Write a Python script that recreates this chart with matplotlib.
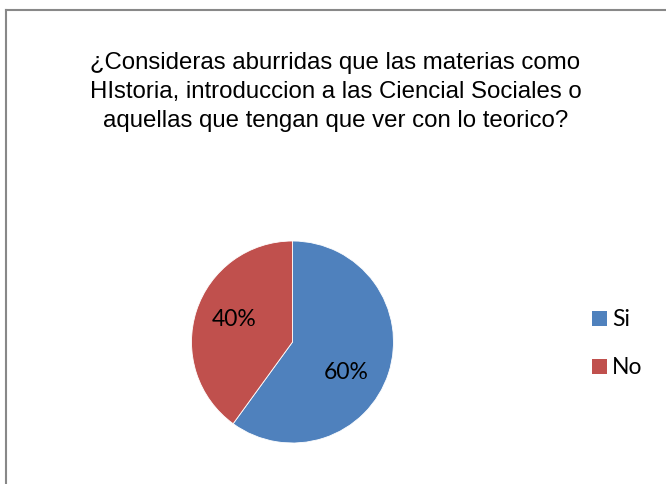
import matplotlib
matplotlib.use("Agg")
import matplotlib.pyplot as plt
from matplotlib.patches import Rectangle
from matplotlib.lines import Line2D

title = "¿Consideras aburridas que las materias como\nHIstoria, introduccion a las Ciencial Sociales o\naquellas que tengan que ver con lo teorico?"
categories = ["Si", "No"]
values = [60, 40]
colors = ["#4F81BD", "#C0504D"]

W, H = 666, 485
fig = plt.figure(figsize=(W / 100, H / 100), dpi=100)
fig.patch.set_facecolor("white")

# chart frame (left and top edges visible)
fig.add_artist(Line2D([5.5 / W, 5.5 / W], [0, 1 - 11 / H], color="#888888", lw=1.5))
fig.add_artist(Line2D([5.5 / W, 1], [1 - 11 / H, 1 - 11 / H], color="#888888", lw=1.5))

fig.text(335.5 / W, 1 - 52 / H, title, ha="center", va="top",
         fontsize=17.3, family="Liberation Sans", linespacing=1.4, color="black")

cx, cy, r = 292.5, 343, 101
ax = fig.add_axes([(cx - r) / W, 1 - (cy + r) / H, 2 * r / W, 2 * r / H])
wedges, _ = ax.pie(values, colors=colors, startangle=90, counterclock=False,
                   radius=1, wedgeprops=dict(linewidth=0.6, edgecolor="white"))
ax.set_xlim(-1, 1)
ax.set_ylim(-1, 1)
ax.set_aspect("equal")
ax.axis("off")

# percentage labels
label_pos = [(0.535, -0.29), (-0.574, 0.228)]
for (x, y), v in zip(label_pos, values):
    ax.text(x, y, f"{v}%", ha="center", va="center", fontsize=16.5,
            family="Lato", color="black")

# legend
leg_y = [319.5, 367.5]
for yy, col, name in zip(leg_y, colors, categories):
    fig.add_artist(Rectangle((592 / W, 1 - (yy + 7.5) / H), 15 / W, 15 / H,
                             facecolor=col, edgecolor="none", transform=fig.transFigure))
    fig.text(612 / W, 1 - yy / H, name, ha="left", va="center", fontsize=16.5,
             family="Lato", color="black")

fig.savefig("out.png", dpi=100, facecolor="white")
